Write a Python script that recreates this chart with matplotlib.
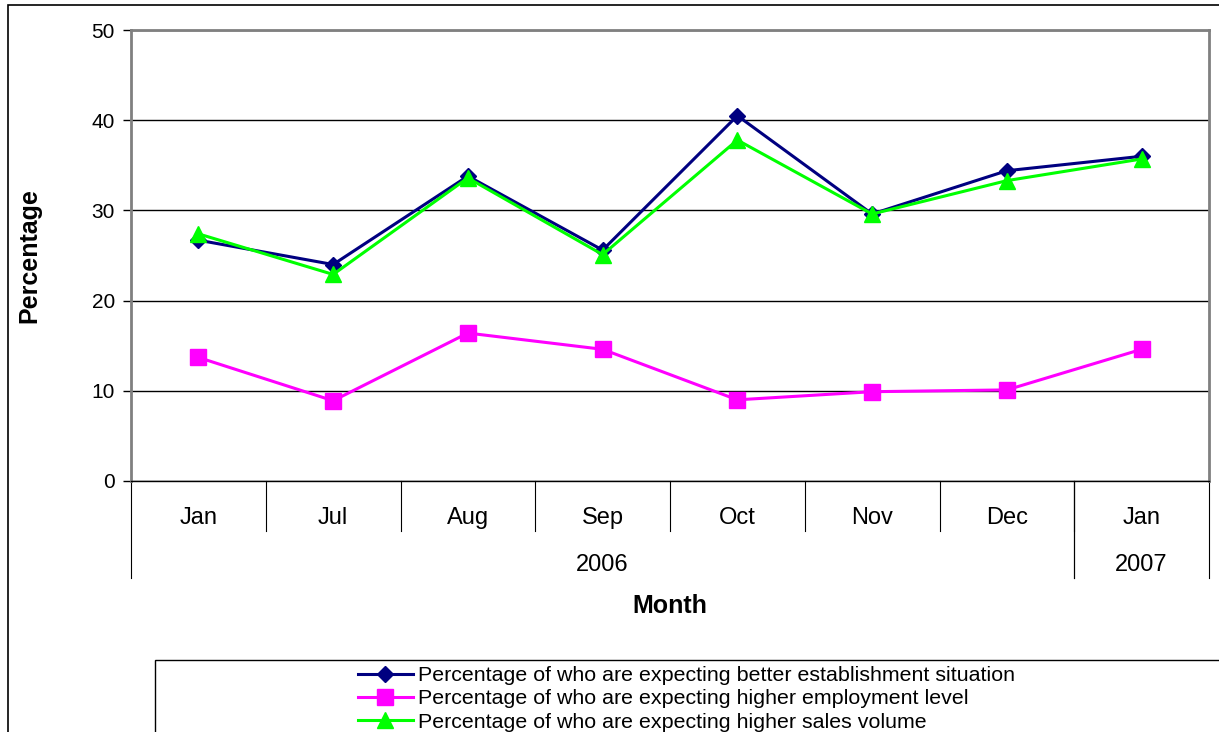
import matplotlib.pyplot as plt
from matplotlib.patches import Rectangle
from matplotlib.transforms import blended_transform_factory

plt.rcParams['font.family'] = ['Liberation Sans', 'DejaVu Sans']

months = ["Jan", "Jul", "Aug", "Sep", "Oct", "Nov", "Dec", "Jan"]
years = ["2006", "2007"]
year_spans = [(0, 6), (7, 7)]

establishment = [26.7, 24.0, 33.8, 25.6, 40.5, 29.6, 34.4, 36.0]
employment = [13.7, 8.9, 16.4, 14.6, 9.0, 9.9, 10.1, 14.6]
sales = [27.4, 22.9, 33.6, 25.1, 37.8, 29.6, 33.3, 35.7]

labels = [
    "Percentage of who are expecting better establishment situation",
    "Percentage of who are expecting higher employment level",
    "Percentage of who are expecting higher sales volume",
]

W, H = 1219, 732
fig = plt.figure(figsize=(W / 100, H / 100), dpi=100)

# outer chart frame and legend box (run off the image like the original)
fig.patches.append(Rectangle((8 / W, -0.1), 1.2, 1 - 5 / H + 0.1, transform=fig.transFigure,
                             fill=False, edgecolor="black", linewidth=1.2))
fig.patches.append(Rectangle((155 / W, -0.1), 1.2, 1 - 660 / H + 0.1, transform=fig.transFigure,
                             fill=False, edgecolor="black", linewidth=1.0))

ax = fig.add_axes([131 / W, 1 - 481 / H, (1209 - 131) / W, 451 / H])
x = list(range(len(months)))

ax.plot(x, establishment, color="#000080", marker="D", markersize=8, linewidth=2.2, label=labels[0], zorder=3)
ax.plot(x, employment, color="#FF00FF", marker="s", markersize=11, linewidth=2.2, label=labels[1], zorder=3)
ax.plot(x, sales, color="#00FF00", marker="^", markersize=12, linewidth=2.2, label=labels[2], zorder=3)

ax.set_xlim(-0.5, len(months) - 0.5)
ax.set_ylim(0, 50)
ax.set_yticks(range(0, 51, 10))
ax.yaxis.grid(True, color="black", linewidth=1)
ax.set_axisbelow(True)
ax.tick_params(axis="y", length=5.5, width=1, pad=6, labelsize=15)
ax.set_xticks([])

for s in ["left", "top", "right"]:
    ax.spines[s].set_color("#808080")
    ax.spines[s].set_linewidth(2)
ax.spines["bottom"].set_color("black")
ax.spines["bottom"].set_linewidth(1)

# two-level category axis
tr = blended_transform_factory(ax.transData, ax.transAxes)
for i, m in enumerate(months):
    ax.text(i, -0.082, m, transform=tr, ha="center", va="center", fontsize=17)
for i in range(1, len(months)):
    ax.plot([i - 0.5, i - 0.5], [0, -0.111], transform=tr, color="black", linewidth=0.8, clip_on=False)
for (a, b), yr in zip(year_spans, years):
    ax.text((a + b) / 2, -0.186, yr, transform=tr, ha="center", va="center", fontsize=17)
    ax.plot([a - 0.5, a - 0.5], [0, -0.215], transform=tr, color="black", linewidth=0.8, clip_on=False)
    ax.plot([b + 0.5, b + 0.5], [0, -0.215], transform=tr, color="black", linewidth=0.8, clip_on=False)

ax.text(0.5, -0.277, "Month", transform=ax.transAxes, ha="center", va="center",
        fontsize=18, fontweight="bold")
ax.text(-0.094, 0.5, "Percentage", transform=ax.transAxes, ha="center", va="center",
        rotation=90, fontsize=18, fontweight="bold")

fig.legend(loc="upper left", bbox_to_anchor=(358 / W, 1 - 666 / H), frameon=False,
           fontsize=15.4, handlelength=2.57, handletextpad=0.23, labelspacing=0.21,
           borderpad=0, borderaxespad=0)

fig.savefig("out.png", dpi=100)
